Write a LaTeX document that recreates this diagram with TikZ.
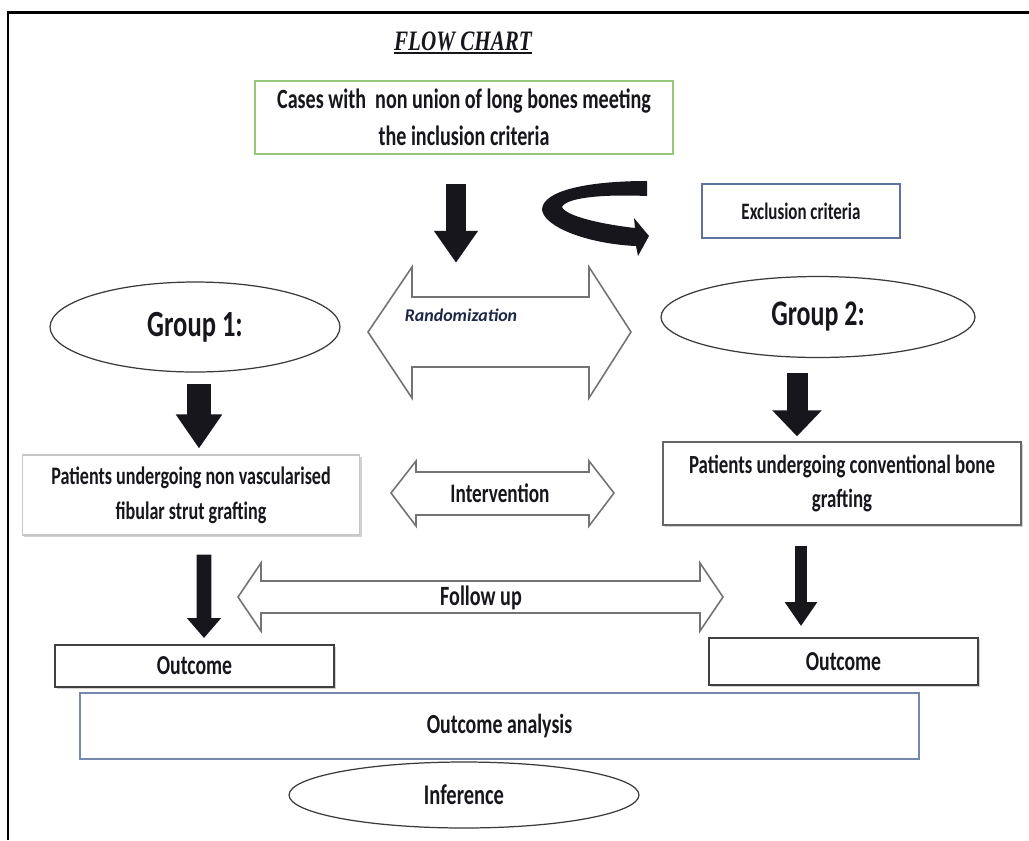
\documentclass[tikz,border=0pt]{standalone}
\usepackage{fontspec}
\usetikzlibrary{shapes.geometric,arrows.meta,calc,shadows}
\newfontfamily\cbf[FakeStretch=0.72]{Carlito}
\newfontfamily\cbn{Carlito}
\newfontfamily\tbf[FakeStretch=0.75]{Liberation Serif}
\definecolor{grn}{RGB}{150,200,120}
\definecolor{bgray}{RGB}{95,115,160}
\definecolor{ink}{RGB}{22,22,28}
\definecolor{arrgray}{RGB}{115,115,115}
\definecolor{navy}{RGB}{30,40,70}
\begin{document}
\begin{tikzpicture}[x=0.02cm,y=-0.02cm,
  lbl/.style={text=ink, inner sep=0pt, align=center},
  box/.style={rectangle, inner sep=0pt, fill=white, text=ink, align=center},
  ell/.style={ellipse, draw=ink!85, line width=0.7pt, inner sep=0pt, fill=white, text=ink},
  dbl/.style={draw=arrgray, line width=0.9pt, fill=white, line join=miter},
  blk/.style={draw=ink, line cap=butt},
  shd/.style={drop shadow={shadow xshift=1.2pt,shadow yshift=-1.2pt,opacity=0.35}},
]
\useasboundingbox (0,0) rectangle (1029,840);
\fill[white] (0,0) rectangle (1029,840);
% frame
\draw[line width=1.7pt, line join=miter] (8,840) -- (8,12) -- (1029,12);

% title
\node[lbl, font=\tbf\bfseries\itshape\fontsize{16}{18}\selectfont] (title) at (463,41) {FLOW CHART};
\draw[line width=1.1pt, ink] ($(title.base west)+(0,3)$) -- ($(title.base east)+(0,3)$);

% top box
\node[box, draw=grn, line width=0.9pt, minimum width=8.36cm, minimum height=1.46cm,
      font=\cbf\bfseries\fontsize{15.9}{21}\selectfont] (top) at (464,117.5)
      {Cases with\ \ non union of long bones meeting\\the inclusion criteria};

% exclusion
\node[box, draw=bgray, line width=0.8pt, minimum width=3.96cm, minimum height=1.08cm,
      font=\cbf\bfseries\fontsize{13.4}{16}\selectfont] (excl) at (801,211) {Exclusion criteria};

% groups
\node[ell, minimum width=5.8cm, minimum height=1.8cm,
      font=\cbf\bfseries\fontsize{21}{25}\selectfont] (g1) at (195,327) {Group 1:};
\node[ell, minimum width=6.28cm, minimum height=1.62cm,
      font=\cbf\bfseries\fontsize{20.5}{25}\selectfont] (g2) at (818,317) {Group 2:};

% patients boxes
\node[box, draw=gray!45, line width=0.6pt, shd, minimum width=6.76cm, minimum height=1.6cm,
      font=\cbf\bfseries\fontsize{14.3}{19.8}\selectfont] (p1) at (191,495)
      {Patients undergoing non vascularised\\fibular strut grafting};
\node[box, draw=black!60, line width=0.8pt, shd, minimum width=7.16cm, minimum height=1.66cm,
      font=\cbf\bfseries\fontsize{14.9}{19.3}\selectfont] (p2) at (842,483.5)
      {Patients undergoing conventional bone\\grafting};

% outcome boxes
\node[box, draw=black!75, line width=1.1pt, shd, minimum width=5.58cm, minimum height=0.84cm,
      font=\cbf\bfseries\fontsize{15.6}{18}\selectfont] (o1) at (194.5,666) {Outcome};
\node[box, draw=black!75, line width=1.1pt, shd, minimum width=5.38cm, minimum height=0.94cm,
      font=\cbf\bfseries\fontsize{15.6}{18}\selectfont] (o2) at (843.5,661.5) {Outcome};

% outcome analysis
\node[box, draw=bgray!85, line width=0.9pt, minimum width=16.78cm, minimum height=1.32cm,
      font=\cbf\bfseries\fontsize{15.7}{18}\selectfont] (oa) at (499.5,726) {Outcome analysis};

% inference
\node[ell, minimum width=7cm, minimum height=1.32cm,
      font=\cbf\bfseries\fontsize{16.2}{19}\selectfont] (inf) at (464,795) {Inference};

% black block arrows
\draw[blk, line width=0.4cm, -{Triangle[width=0.84cm,length=0.64cm]}]
  ($(top.south)+(-8,29)$) -- ($(top.south)+(-8,108)$);
\draw[blk, line width=0.48cm, -{Triangle[width=0.88cm,length=0.68cm]}]
  ($(g1.south)+(4,11)$) -- ($(p1.north)+(8,-6)$);
\draw[blk, line width=0.3cm, -{Triangle[width=0.66cm,length=0.4cm]}]
  ($(p1.south)+(13,19)$) -- ($(o1.north)+(9.5,-6)$);
\draw[blk, line width=0.42cm, -{Triangle[width=0.96cm,length=0.52cm]}]
  ($(g2.south)+(-21,15)$) -- ($(p2.north)+(-45,-5)$);
\draw[blk, line width=0.24cm, -{Triangle[width=0.62cm,length=0.48cm]}]
  ($(p2.south)+(-41,20)$) -- ($(o2.north)+(-42.5,-11)$);

% curved arrow to exclusion
\fill[ink] (647,181) -- (647,196)
  .. controls (600,194) and (566,198) .. (562,207)
  .. controls (566,216) and (600,224) .. (635,228)
  -- (634,218) -- (649,236) -- (638,256) -- (636,246)
  .. controls (590,244) and (545,228) .. (542,210)
  .. controls (542,190) and (590,181) .. (647,181) -- cycle;

% randomization double arrow
\draw[dbl] (368,332) -- (412,267) -- (412,297) -- (589,297) -- (589,267) -- (631,332)
  -- (589,398) -- (589,367) -- (412,367) -- (412,398) -- cycle;
\node[lbl, text=navy, font=\cbn\bfseries\itshape\fontsize{10.2}{12}\selectfont] (rnd) at (461,315) {Randomization};

% intervention double arrow
\draw[dbl] (391,493) -- (416,461) -- (416,472) -- (589,472) -- (589,461) -- (614,493)
  -- (589,526) -- (589,515) -- (416,515) -- (416,526) -- cycle;
\node[lbl, font=\cbf\bfseries\fontsize{15.2}{18}\selectfont] (intv) at (500,493) {Intervention};

% follow up double arrow
\draw[dbl] (238,597) -- (261,563) -- (261,581) -- (700,581) -- (700,563) -- (723,597)
  -- (700,631) -- (700,613) -- (261,613) -- (261,631) -- cycle;
\node[lbl, font=\cbf\bfseries\fontsize{15.9}{18}\selectfont] (fu) at (481,598) {Follow up};
\end{tikzpicture}
\end{document}
